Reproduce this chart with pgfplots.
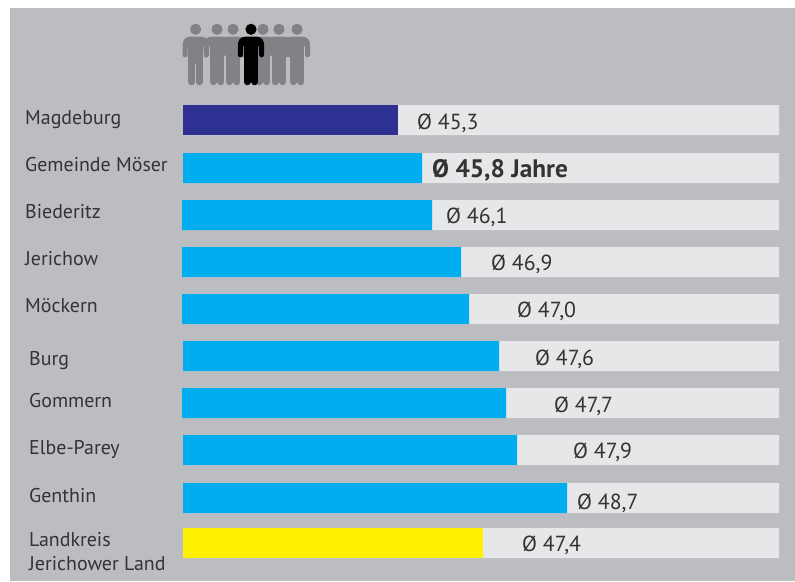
\documentclass[border=0pt]{standalone}
\usepackage{fontspec}
\setmainfont{PT Sans}
\usepackage{pgfplots}
\pgfplotsset{compat=1.18}
\definecolor{bgc}{HTML}{BCBDC1}
\definecolor{track}{HTML}{E6E7E8}
\definecolor{navy}{HTML}{2E3192}
\definecolor{cyanb}{HTML}{00AEEF}
\definecolor{yell}{HTML}{FFF200}
\definecolor{txt}{HTML}{333333}
\definecolor{pers}{HTML}{808285}
\newcommand{\tx}[3]{\node[anchor=base west,inner sep=0pt,text=txt,font=\fontsize{19.9pt}{19.9pt}\selectfont] at (axis cs:#1-183,#2) {#3};}
\newcommand{\val}[3]{\node[anchor=base west,inner sep=0pt,text=txt,font=\fontsize{21.8pt}{21.8pt}\selectfont] at (axis cs:#1-183,#2) {#3};}
\newcommand{\person}[2]{%
\begin{scope}[shift={(axis cs:#1-183,0)},yscale=-1,x=1pt,y=1pt,#2]
\fill (0,29.3) circle (5.6);
\fill (-7.4,38) -- (7.4,38) -- (7.4,64) -- (-7.4,64) -- cycle;
\fill (-5,36.6) .. controls (-10.5,36.6) and (-13.2,40) .. (-13.2,46) -- (-13,55) -- (-8.2,55) -- (-7.9,46) -- (7.9,46) -- (8.2,55) -- (13,55) -- (13.2,46) .. controls (13.2,40) and (10.5,36.6) .. (5,36.6) -- cycle;
\fill (-10.6,55) circle (2.4);
\fill (10.6,55) circle (2.4);
\draw[line width=6.9pt,line cap=round] (-3.9,60) -- (-3.9,81.8);
\draw[line width=6.9pt,line cap=round] (3.9,60) -- (3.9,81.8);
\end{scope}}
\begin{document}
\begin{tikzpicture}
\useasboundingbox (0,0) rectangle (795pt,581pt);
\begin{axis}[
  scale only axis, width=795pt, height=581pt,
  xmin=-183, xmax=612, ymin=0, ymax=581, y dir=reverse,
  hide axis, clip=false,
  xbar, /pgf/bar shift=0pt, bar width=30pt,
]
\fill[bgc] (axis cs:-173,8) rectangle (axis cs:612,581);
% full-width tracks
\addplot[fill=track,draw=none] coordinates {(596,120) (596,168) (596,215) (596,262) (596,309) (596,356) (596,403) (596,450) (596,498) (596,543)};
% Magdeburg
\addplot[fill=navy,draw=none] coordinates {(215,120)};
% cyan bars starting at px 183
\addplot[fill=cyanb,draw=none] coordinates {(239,168) (316,356) (334,450) (384,498)};
% cyan bars starting at px 182
\addplot[fill=cyanb,draw=none,xshift=-1pt] coordinates {(250,215) (279,262) (287,309) (324,403)};
% Landkreis
\addplot[fill=yell,draw=none] coordinates {(300,543)};
\tx{25}{124}{Magdeburg}
\tx{25}{171}{Gemeinde Möser}
\tx{25}{218}{Biederitz}
\tx{25}{265}{Jerichow}
\tx{25}{312}{Möckern}
\tx{29}{365}{Burg}
\tx{29}{407}{Gommern}
\tx{29}{454}{Elbe-Parey}
\tx{29}{502}{Genthin}
\tx{29}{546}{Landkreis}
\tx{29}{570}{Jerichower Land}
\val{417}{129}{Ø 45,3}
\val{446}{223}{Ø 46,1}
\val{491}{270}{Ø 46,9}
\val{517}{317}{Ø 47,0}
\val{535}{365}{Ø 47,6}
\val{554}{412}{Ø 47,7}
\val{573}{458}{Ø 47,9}
\val{577}{509}{Ø 48,7}
\val{522}{551}{Ø 47,4}
\node[anchor=base west,inner sep=0pt,text=txt,font=\fontsize{25.3pt}{25.3pt}\selectfont\bfseries] at (axis cs:432-183,177) {Ø 45,8 Jahre};
\person{195.7}{color=pers}
\person{217}{color=pers}
\person{233}{color=pers}
\person{263}{color=pers}
\person{279}{color=pers}
\person{297}{color=pers}
\person{251}{color=black}
\end{axis}
\end{tikzpicture}
\end{document}
